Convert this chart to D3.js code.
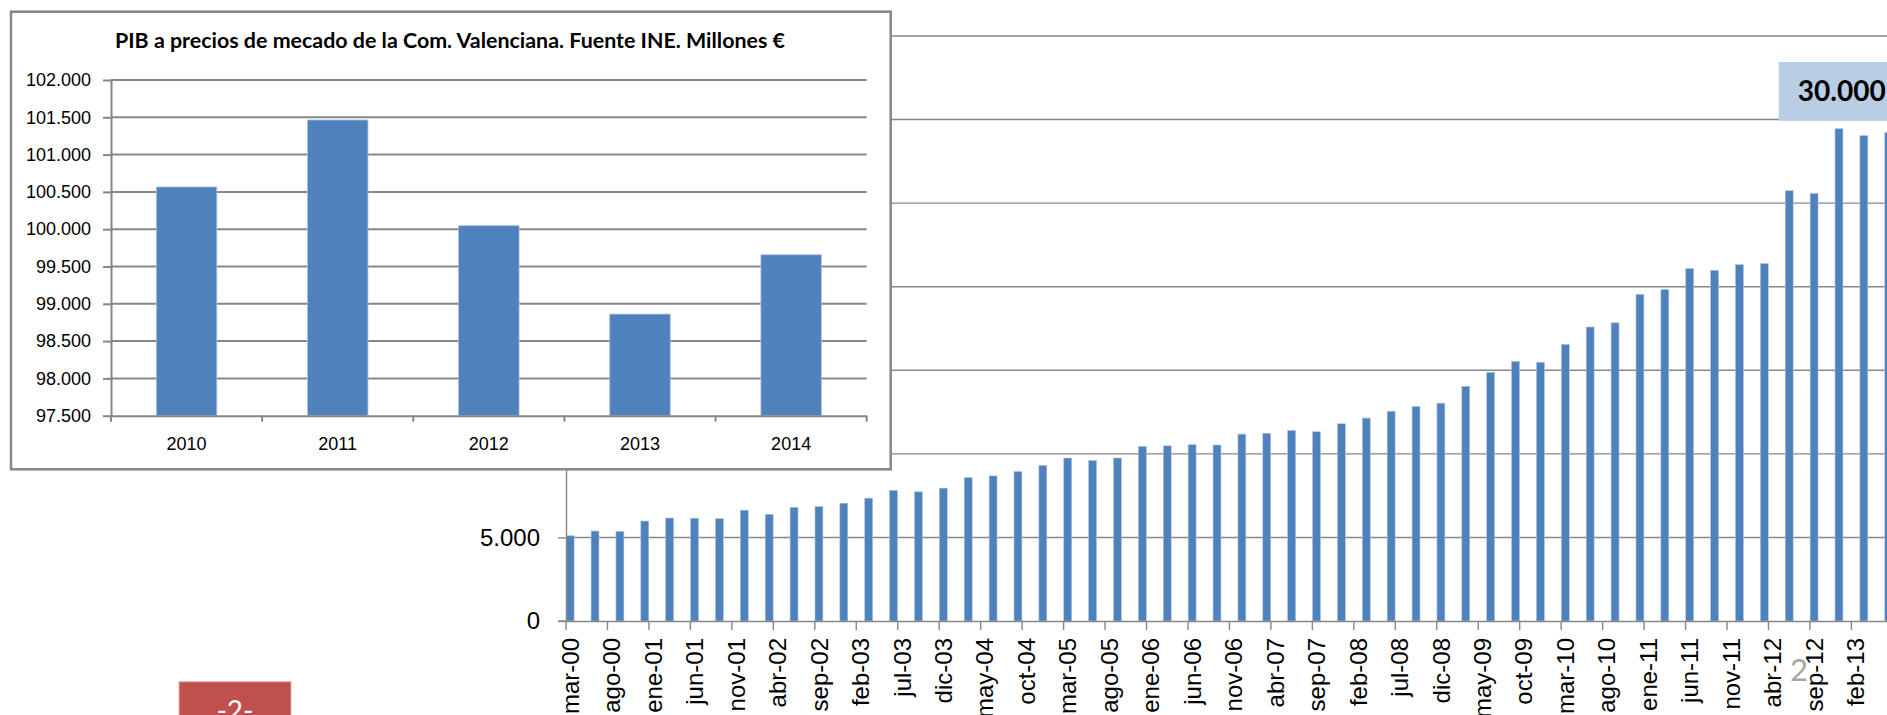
<!DOCTYPE html>
<html>
<head>
<meta charset="utf-8">
<script src="https://cdn.jsdelivr.net/npm/d3@7"></script>
<style>
  html, body { margin: 0; padding: 0; background: #fff; overflow: hidden; }
  svg { display: block; font-family: Lato, "Open Sans", sans-serif; }
</style>
</head>
<body>
<svg id="chart" width="1887" height="715"></svg>
<script>
// --- datos del gráfico de fondo (trimestral, millones €) ---
const meses = ["ene","feb","mar","abr","may","jun","jul","ago","sep","oct","nov","dic"];
const trimestres = [
  "mar-00","jun-00","sep-00","dic-00","mar-01","jun-01","sep-01","dic-01",
  "mar-02","jun-02","sep-02","dic-02","mar-03","jun-03","sep-03","dic-03",
  "mar-04","jun-04","sep-04","dic-04","mar-05","jun-05","sep-05","dic-05",
  "mar-06","jun-06","sep-06","dic-06","mar-07","jun-07","sep-07","dic-07",
  "mar-08","jun-08","sep-08","dic-08","mar-09","jun-09","sep-09","dic-09",
  "mar-10","jun-10","sep-10","dic-10","mar-11","jun-11","sep-11","dic-11",
  "mar-12","jun-12","sep-12","dic-12","mar-13","jun-13"
];
const valores = [
  5100, 5380, 5360, 5980, 6160, 6150, 6120, 6630, 6380, 6800,
  6840, 7050, 7350, 7820, 7730, 7950, 8580, 8680, 8940, 9310,
  9750, 9600, 9750, 10450, 10480, 10550, 10530, 11180, 11230, 11400,
  11320, 11800, 12140, 12550, 12830, 13030, 14040, 14880, 15530, 15480,
  16550, 17590, 17840, 19540, 19820, 21080, 20980, 21320, 21380, 25740,
  25580, 29450, 29040, 29220
];
const etiquetasEje = [
  "mar-00","ago-00","ene-01","jun-01","nov-01","abr-02","sep-02","feb-03",
  "jul-03","dic-03","may-04","oct-04","mar-05","ago-05","ene-06","jun-06",
  "nov-06","abr-07","sep-07","feb-08","jul-08","dic-08","may-09","oct-09",
  "mar-10","ago-10","ene-11","jun-11","nov-11","abr-12","sep-12","feb-13"
];
const ticksPrincipal = [0, 5000, 10000, 15000, 20000, 25000, 30000, 35000];

// --- datos del gráfico insertado (PIB anual) ---
const anios = ["2010", "2011", "2012", "2013", "2014"];
const pib = [100566, 101464, 100047, 98862, 99657];
const ticksInset = [97500, 98000, 98500, 99000, 99500, 100000, 100500, 101000, 101500, 102000];

const locale = d3.formatLocale({decimal: ",", thousands: ".", grouping: [3], currency: ["", "€"]});
const fmt = locale.format(",.0f");

const blue = "#4f81bd";
const grid = "#878787";

const svg = d3.select("#chart");

// ===== gráfico de fondo =====
const mesesEje = [];
for (let a = 0; a <= 13; a++) {
  for (let m = 0; m < 12; m++) {
    if (a === 0 && m < 2) continue;
    if (a === 13 && m > 5) break;
    mesesEje.push(meses[m] + "-" + String(a).padStart(2, "0"));
  }
}

const x0 = 566, mesW = 8.293;
const x = d3.scaleBand().domain(mesesEje).range([x0, x0 + mesesEje.length * mesW]);
const y = d3.scaleLinear().domain([0, 35000]).range([621, 36]);

const main = svg.append("g");

main.append("g")
  .selectAll("line")
  .data(ticksPrincipal.slice(1))
  .enter().append("line")
  .attr("x1", x0).attr("x2", 1900)
  .attr("y1", d => y(d)).attr("y2", d => y(d))
  .attr("stroke", grid).attr("stroke-width", 1.4);

main.append("g")
  .selectAll("rect")
  .data(valores)
  .enter().append("rect")
  .attr("x", (d, i) => x(trimestres[i]) + 0.2)
  .attr("width", x.bandwidth() - 0.4)
  .attr("y", d => y(d))
  .attr("height", d => y(0) - y(d))
  .attr("fill", blue)
  .attr("stroke", "#a9c0de").attr("stroke-width", 0.6);

const yAxis = main.append("g")
  .attr("transform", `translate(${x0},0)`)
  .call(d3.axisLeft(y).tickValues(ticksPrincipal).tickSize(8).tickSizeOuter(0)
    .tickPadding(18).tickFormat(fmt));
yAxis.select(".domain").attr("stroke", grid).attr("stroke-width", 1.4);
yAxis.selectAll(".tick line").attr("stroke", grid).attr("stroke-width", 1.4);
yAxis.selectAll("text").attr("font-size", 24).attr("fill", "#000");

const xAxis = main.append("g")
  .attr("transform", `translate(0,${y(0)})`)
  .call(d3.axisBottom(x).tickValues(etiquetasEje).tickSize(9).tickSizeOuter(0));
xAxis.select(".domain").attr("stroke", grid).attr("stroke-width", 1.4);
xAxis.selectAll(".tick line")
  .attr("x1", -x.bandwidth() / 2).attr("x2", -x.bandwidth() / 2)
  .attr("stroke", grid).attr("stroke-width", 1.4);
xAxis.selectAll(".tick text")
  .attr("transform", "rotate(-90)")
  .attr("x", -17).attr("y", 0).attr("dy", "0.36em")
  .attr("text-anchor", "end")
  .attr("font-size", 24).attr("fill", "#000");
// extiende el eje a la izquierda como en el original
main.append("line")
  .attr("x1", x0 - 8).attr("x2", x0)
  .attr("y1", y(0)).attr("y2", y(0))
  .attr("stroke", grid).attr("stroke-width", 1.4);

// rótulo "30.000"
const cx = x("may-12") + 2;
main.append("rect")
  .attr("x", cx).attr("y", y(33450))
  .attr("width", 140).attr("height", y(29930) - y(33450))
  .attr("fill", "#b9cde5");
main.append("text")
  .attr("x", cx + 19).attr("y", y(31130))
  .attr("font-size", 28).attr("font-weight", "bold").attr("fill", "#000")
  .text(fmt(30000));

// ===== gráfico insertado =====
const inset = svg.append("g");
inset.append("rect")
  .attr("x", 11).attr("y", 11.7)
  .attr("width", 879.7).attr("height", 457.6)
  .attr("fill", "#fff").attr("stroke", grid).attr("stroke-width", 2.5);

inset.append("text")
  .attr("x", 450).attr("y", 48)
  .attr("text-anchor", "middle")
  .attr("font-size", 20).attr("font-weight", "bold").attr("fill", "#000")
  .attr("textLength", 670).attr("lengthAdjust", "spacingAndGlyphs")
  .text("PIB a precios de mecado de la Com. Valenciana. Fuente INE. Millones €");

const xi = d3.scaleBand().domain(anios).range([111, 866.7]).paddingInner(0.6).paddingOuter(0.3);
const yi = d3.scaleLinear().domain([97500, 102000]).range([415.7, 80]);

inset.append("g")
  .selectAll("line")
  .data(ticksInset.slice(1))
  .enter().append("line")
  .attr("x1", 111).attr("x2", 866.7)
  .attr("y1", d => yi(d)).attr("y2", d => yi(d))
  .attr("stroke", grid).attr("stroke-width", 2);

inset.append("g")
  .selectAll("rect")
  .data(pib)
  .enter().append("rect")
  .attr("x", (d, i) => xi(anios[i]))
  .attr("width", xi.bandwidth())
  .attr("y", d => yi(d))
  .attr("height", d => yi(97500) - yi(d))
  .attr("fill", blue)
  .attr("stroke", "#a9c0de").attr("stroke-width", 0.8);

const yiAxis = inset.append("g")
  .attr("transform", "translate(111,0)")
  .call(d3.axisLeft(yi).tickValues(ticksInset).tickSize(8).tickSizeOuter(0)
    .tickPadding(12).tickFormat(fmt));
yiAxis.select(".domain").attr("stroke", grid).attr("stroke-width", 2);
yiAxis.selectAll(".tick line").attr("stroke", grid).attr("stroke-width", 2);
yiAxis.selectAll("text").attr("font-size", 18).attr("fill", "#000");

const stepI = xi.step();
const xiAxis = inset.append("g")
  .attr("transform", `translate(0,${yi(97500)})`)
  .call(d3.axisBottom(xi).tickSize(0).tickSizeOuter(0).tickPadding(22));
xiAxis.select(".domain").attr("stroke", grid).attr("stroke-width", 2);
xiAxis.selectAll("text").attr("font-size", 18).attr("fill", "#000");
xiAxis.selectAll(".sep")
  .data(d3.range(anios.length + 1))
  .enter().append("line")
  .attr("class", "sep")
  .attr("x1", i => 111 + i * stepI).attr("x2", i => 111 + i * stepI)
  .attr("y1", 0).attr("y2", 6)
  .attr("stroke", grid).attr("stroke-width", 2);

// ===== elementos de la página =====
svg.append("rect")
  .attr("x", 179).attr("y", 681.7)
  .attr("width", 112).attr("height", 50)
  .attr("fill", "#c0504d").attr("stroke", "#e3b3b2").attr("stroke-width", 1);
svg.append("text")
  .attr("x", 235).attr("y", 721)
  .attr("text-anchor", "middle")
  .attr("font-size", 28).attr("fill", "#fff")
  .text("-2-");
svg.append("text")
  .attr("x", 1799).attr("y", 681)
  .attr("text-anchor", "middle")
  .attr("font-size", 31).attr("fill", "#a5a5a5")
  .text("2");
</script>
</body>
</html>
